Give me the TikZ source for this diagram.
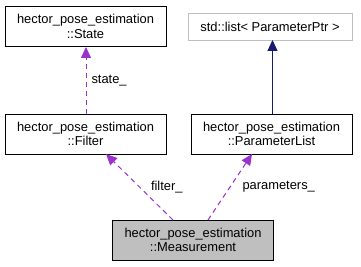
\documentclass[tikz,border=0pt]{standalone}
\usepackage{fontspec}
\setmainfont{Liberation Sans}
\usetikzlibrary{arrows.meta}

\definecolor{member}{HTML}{9A32CD}
\definecolor{inherit}{HTML}{191970}
\definecolor{boxgrey}{HTML}{BFBFBF}

\begin{document}
\begin{tikzpicture}
  [x=1pt,y=-1pt,
   every node/.style={font=\fontsize{12.9}{14.5}\selectfont,align=center,inner sep=0pt},
   cls/.style={draw=black,line width=0.9pt,fill=white,minimum width=161pt,minimum height=40pt},
   ext/.style={draw=boxgrey,line width=0.9pt,fill=white,minimum width=164pt,minimum height=27pt},
   usage/.style={draw=member,dash pattern=on 5pt off 4pt,line width=1pt,
     -{Triangle[length=11pt,width=10pt,fill=member]}},
   derive/.style={draw=inherit,line width=1pt,-{Triangle[length=11pt,width=10pt,fill=inherit]}},
   lbl/.style={anchor=west,font=\fontsize{12.9}{14.5}\selectfont}]
  \useasboundingbox (0,0) rectangle (361,267);

  \node[cls] (state) at (85.5,26.5)   {hector\_pose\_estimation\\::State};
  \node[ext] (list)  at (270,26.5)    {std::list\textless{} ParameterPtr \textgreater{}};
  \node[cls] (filter) at (85.5,134)   {hector\_pose\_estimation\\::Filter};
  \node[cls] (params) at (271.5,134)  {hector\_pose\_estimation\\::ParameterList};
  \node[cls,fill=boxgrey] (meas) at (193,240) {hector\_pose\_estimation\\::Measurement};

  \coordinate (f1) at (86,114);
  \coordinate (s1) at (86,47);
  \coordinate (p1) at (272.5,114);
  \coordinate (l1) at (272.5,40);
  \coordinate (m1) at (173,220);
  \coordinate (m2) at (208,220);
  \coordinate (f2) at (106,154);
  \coordinate (p2) at (252,154);

  \draw[usage] (f1) -- (s1) node[lbl,midway,xshift=5pt] {state\_};
  \draw[derive] (p1) -- (l1);
  \draw[usage] (m1) -- (f2) node[lbl,pos=0.5,xshift=11pt] {filter\_};
  \draw[usage] (m2) -- (p2) node[lbl,pos=0.5,xshift=12pt] {parameters\_};
\end{tikzpicture}
\end{document}
